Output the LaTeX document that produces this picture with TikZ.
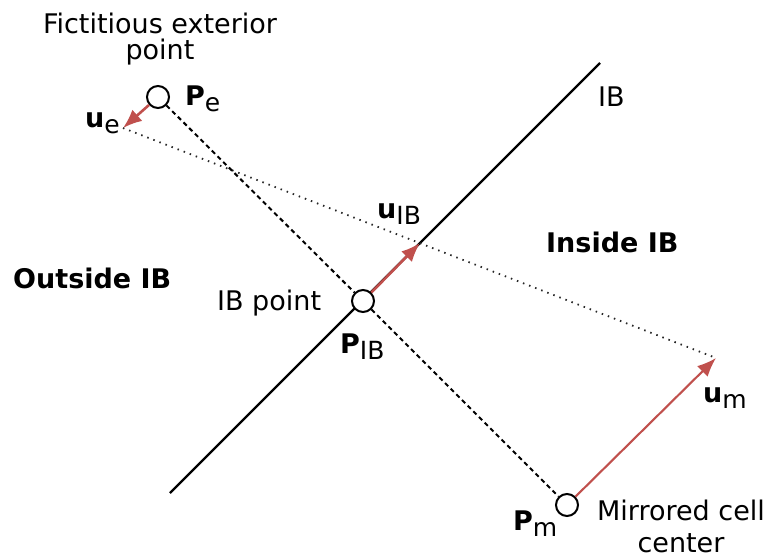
\documentclass[tikz,border=0pt]{standalone}
\usepackage{fontspec}
\setmainfont{DejaVu Sans}
\usetikzlibrary{arrows.meta}
\definecolor{vecred}{RGB}{192,80,77}
\newcommand\lowsub[1]{\raisebox{-6pt}{\fontsize{25}{28}\selectfont #1}}
\tikzset{
  lbl/.style={inner sep=0pt, anchor=base west, font=\fontsize{27}{26}\selectfont},
  blbl/.style={lbl, font=\fontsize{27}{26}\selectfont\bfseries},
  pt/.style={circle, draw=black, fill=white, line width=2pt, minimum size=22pt, inner sep=0pt},
  vec/.style={draw=vecred, line width=2.6pt, -{Latex[length=19pt,width=15pt]}},
  ibline/.style={line width=2.4pt, black},
  mirror/.style={line width=2pt, dash pattern=on 4.5pt off 3.5pt},
  proj/.style={line width=1.8pt, black!85, dash pattern=on 1.5pt off 5pt},
}
\begin{document}
\begin{tikzpicture}[x=1pt,y=-1pt]
\useasboundingbox (0,0) rectangle (769,557);
% IB line
\coordinate (ib1) at (170,493);
\coordinate (ib2) at (600,63);
\draw[ibline] (ib1) -- (ib2);
% vector tips
\coordinate (uetip) at (123,128);
\coordinate (uibtip) at (420,243);
\coordinate (umtip) at (716,358);
% dotted line
\draw[proj] (uetip) -- (umtip);
% points
\node[pt] (pe) at (158,97) {};
\node[pt] (pib) at (363,301) {};
\node[pt] (pm) at (567,505) {};
% dashed mirror line
\draw[mirror] (pe) -- (pib);
\draw[mirror] (pib) -- (pm);
% vectors
\draw[vec] (pe) -- (uetip);
\draw[vec] (pib) -- (uibtip);
\draw[vec, line width=2.1pt] (pm) -- (umtip);
% labels
\node[lbl, anchor=base, align=center] (fict) at (160,59) {Fictitious exterior\\point};
\node[lbl] (pelbl) at (185,105) {\textbf{P}\lowsub{e}};
\node[lbl] (uelbl) at (85,127) {\textbf{u}\lowsub{e}};
\node[lbl] (iblbl) at (598,106) {IB};
\node[lbl] (uiblbl) at (377,218) {\textbf{u}\lowsub{IB}};
\node[blbl] (inside) at (546,252) {Inside IB};
\node[blbl] (outside) at (13,288) {Outside IB};
\node[lbl] (ibpt) at (217,310) {IB point};
\node[lbl] (piblbl) at (340,353) {\textbf{P}\lowsub{IB}};
\node[lbl] (umlbl) at (703,402) {\textbf{u}\lowsub{m}};
\node[lbl] (pmlbl) at (513,530) {\textbf{P}\lowsub{m}};
\node[lbl, anchor=base, align=center] (mirr) at (681,552) {Mirrored cell\\[6pt]center};
\end{tikzpicture}
\end{document}
